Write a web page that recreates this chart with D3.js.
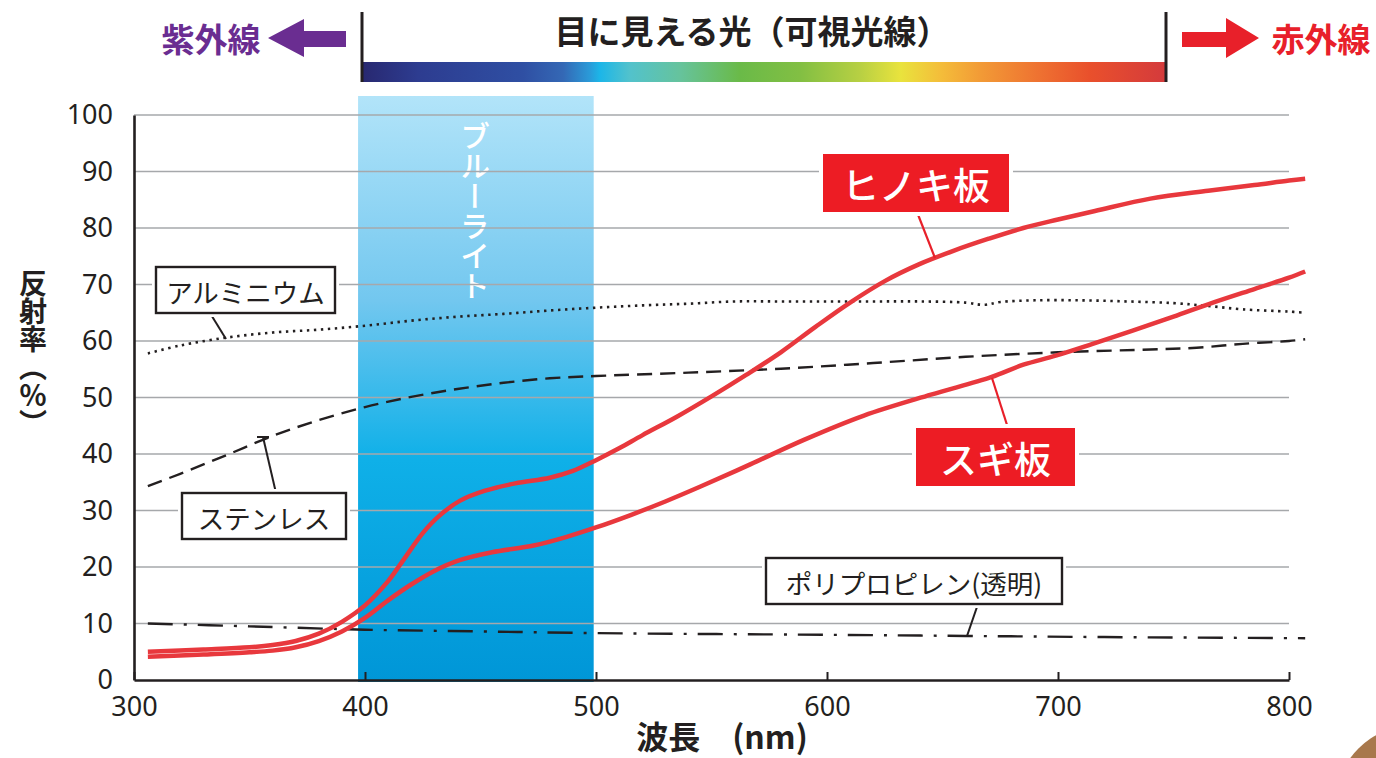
<!DOCTYPE html>
<html><head><meta charset="utf-8">
<script src="https://cdn.jsdelivr.net/npm/d3@7/dist/d3.min.js"></script>
<style>body{margin:0;background:#fff;}svg{display:block;}</style>
</head><body>
<svg id="chart" width="1376" height="758"></svg>
<script>
// ---------- data ----------
const xTicks = [300, 400, 500, 600, 700, 800];
const yTicks = [0, 10, 20, 30, 40, 50, 60, 70, 80, 90, 100];
const blueLightRange = [397, 499];

const hinokiNm  = [306, 330, 350, 360, 370, 380, 390, 400, 410, 415, 420, 425, 432, 441, 452, 465, 480, 490, 500, 510, 520, 535, 550, 565, 580, 595, 610, 625, 640, 655, 670, 685, 700, 716, 740, 765, 785, 800, 807];
const hinokiVal = [5.0, 5.4, 5.8, 6.2, 6.9, 8.2, 10.3, 13.2, 17.5, 20.3, 23.2, 26.0, 29.0, 31.7, 33.5, 34.8, 35.8, 37.0, 38.9, 41.0, 43.3, 46.6, 50.2, 54.0, 58.0, 62.5, 66.8, 70.6, 73.6, 76.0, 78.1, 80.0, 81.5, 83.0, 85.2, 86.6, 87.6, 88.4, 88.7];

const sugiNm  = [306, 330, 350, 360, 370, 380, 390, 400, 410, 420, 430, 441, 455, 473, 487, 500, 515, 530, 545, 567, 590, 616, 645, 671, 685, 699, 715, 732, 750, 765, 785, 800, 807];
const sugiVal = [4.1, 4.5, 4.9, 5.2, 5.8, 6.9, 8.6, 11.0, 14.1, 16.9, 19.3, 21.2, 22.6, 23.8, 25.3, 27.0, 29.2, 31.6, 34.2, 38.2, 42.5, 46.8, 50.5, 53.6, 55.8, 57.4, 59.5, 61.8, 64.3, 66.5, 69.2, 71.2, 72.3];

const aluNm  = [306, 320, 340, 360, 380, 400, 420, 440, 460, 480, 500, 520, 540, 560, 580, 600, 620, 640, 660, 668, 675, 690, 710, 730, 750, 765, 780, 800, 807];
const aluVal = [57.8, 59.2, 60.6, 61.5, 62.0, 62.7, 63.6, 64.3, 64.8, 65.4, 65.9, 66.3, 66.6, 67.0, 67.0, 67.0, 67.0, 67.0, 66.8, 66.4, 66.9, 67.2, 67.2, 67.0, 66.7, 66.2, 65.6, 65.2, 65.0];

const steelNm  = [306, 320, 340, 360, 380, 400, 420, 440, 460, 480, 500, 540, 580, 620, 660, 700, 740, 760, 780, 800, 807];
const steelVal = [34.3, 36.5, 39.8, 43.2, 46.0, 48.3, 50.1, 51.5, 52.6, 53.4, 53.8, 54.4, 55.1, 56.1, 57.2, 58.0, 58.5, 58.8, 59.5, 60.0, 60.3];

const ppNm  = [306, 350, 400, 450, 500, 600, 660, 720, 807];
const ppVal = [10.0, 9.5, 8.9, 8.6, 8.3, 8.0, 7.8, 7.6, 7.4];

// ---------- setup ----------
const svg = d3.select('#chart');
const INK = '#231f20';
const RED = '#e8383d';
const JP = '"Noto Sans CJK JP","Noto Sans CJK SC",sans-serif';
const NUM = '"Noto Sans","Open Sans",sans-serif';

const x = d3.scaleLinear().domain([300, 800]).range([134, 1289]);
const y = d3.scaleLinear().domain([0, 100]).range([680, 115]);

const defs = svg.append('defs');
const bg = defs.append('linearGradient').attr('id','band').attr('x1',0).attr('x2',0).attr('y1',0).attr('y2',1);
[[0,'#b2e4f9'],[0.35,'#72c7ef'],[0.62,'#0fb0e8'],[1,'#0096d7']].forEach(s=>bg.append('stop').attr('offset',s[0]).attr('stop-color',s[1]));

const sg = defs.append('linearGradient').attr('id','spec').attr('x1',0).attr('x2',1).attr('y1',0).attr('y2',0);
[[0,'#282870'],[0.07,'#2d3c90'],[0.2,'#2f4fa3'],[0.25,'#3468b5'],[0.283,'#2a9ad8'],[0.296,'#1cb6e8'],[0.333,'#52c2cc'],[0.396,'#66c39c'],[0.47,'#6aba48'],[0.545,'#82bf43'],[0.62,'#b8d043'],[0.67,'#e9e33d'],[0.72,'#f4bd3a'],[0.77,'#f29a36'],[0.843,'#ee7131'],[0.905,'#e9502c'],[1,'#d43a3c']]
  .forEach(s=>sg.append('stop').attr('offset',s[0]).attr('stop-color',s[1]));

// ---------- top spectrum header ----------
svg.append('rect').attr('x',362).attr('y',62).attr('width',804).attr('height',20).attr('fill','url(#spec)');
[362,1166].forEach(px=>svg.append('line').attr('x1',px).attr('x2',px).attr('y1',12).attr('y2',82).attr('stroke',INK).attr('stroke-width',3));
svg.append('text').attr('x',752).attr('y',30).attr('text-anchor','middle').attr('dominant-baseline','central')
  .style('font-family',JP).style('font-weight',700).style('font-size','33px').attr('fill',INK).text('目に見える光（可視光線）');
svg.append('text').attr('x',211).attr('y',38).attr('text-anchor','middle').attr('dominant-baseline','central')
  .style('font-family',JP).style('font-weight',700).style('font-size','33px').attr('fill','#6a2d91').text('紫外線');
svg.append('path').attr('d','M268,38 L304,19 L304,31 L346,31 L346,47 L304,47 L304,57 Z').attr('fill','#6a2d91');
svg.append('text').attr('x',1321).attr('y',38).attr('text-anchor','middle').attr('dominant-baseline','central')
  .style('font-family',JP).style('font-weight',700).style('font-size','33px').attr('fill','#e8202a').text('赤外線');
svg.append('path').attr('d','M1182,32 L1226,32 L1226,18 L1259,38 L1226,58 L1226,47 L1182,47 Z').attr('fill','#e8202a');

// ---------- blue light band ----------
svg.append('rect').attr('x',x(blueLightRange[0])).attr('y',96)
  .attr('width',x(blueLightRange[1])-x(blueLightRange[0])).attr('height',682-96).attr('fill','url(#band)');
svg.append('text').attr('x',475).attr('y',211).attr('text-anchor','middle')
  .style('writing-mode','vertical-rl').style('font-family',JP).style('font-weight',500).style('font-size','30px')
  .attr('fill','#fff').text('ブルーライト');

// ---------- grid ----------
svg.append('g').selectAll('line').data(yTicks.filter(v=>v>0)).join('line')
  .attr('x1',x(300)).attr('x2',x(800)).attr('y1',d=>y(d)).attr('y2',d=>y(d))
  .attr('stroke','#a6a8ab').attr('stroke-width',1.5);

// ---------- axes ----------
const yAxis = svg.append('g').attr('transform',`translate(${x(300)},0)`)
  .call(d3.axisLeft(y).tickValues(yTicks).tickSize(0).tickPadding(21));
yAxis.select('.domain').attr('stroke',INK).attr('stroke-width',2.6);
yAxis.selectAll('text').style('font-family',NUM).style('font-size','27px').attr('fill',INK);

const xAxis = svg.append('g').attr('transform',`translate(0,${y(0)})`)
  .call(d3.axisBottom(x).tickValues(xTicks).tickSizeInner(-8).tickSizeOuter(0).tickPadding(17));
xAxis.select('.domain').attr('stroke',INK).attr('stroke-width',2.6);
xAxis.selectAll('.tick line').attr('stroke',INK).attr('stroke-width',2);
xAxis.selectAll('text').style('font-family',NUM).style('font-size','27px').attr('fill',INK);

svg.append('text').attr('x',722).attr('y',749).attr('text-anchor','middle')
  .style('font-family',JP).style('font-weight',700).style('font-size','32px').attr('fill',INK).text('波長　(nm)');
svg.append('text').attr('x',33).attr('y',353).attr('text-anchor','middle')
  .style('writing-mode','vertical-rl').style('font-family',JP).style('font-weight',700).style('font-size','28px')
  .attr('fill',INK).text('反射率（％）');

// ---------- curves ----------
const zip = (a,b)=>a.map((v,i)=>[v,b[i]]);
const line = d3.line().x(d=>x(d[0])).y(d=>y(d[1])).curve(d3.curveCatmullRom.alpha(0.5));
const series = [
  {d:zip(aluNm,aluVal),   c:INK, w:2.6, dash:'2.4,4.6'},
  {d:zip(steelNm,steelVal), c:INK, w:2.4, dash:'15,8'},
  {d:zip(ppNm,ppVal),     c:INK, w:2.4, dash:'25,11,3,11'},
  {d:zip(sugiNm,sugiVal), c:RED, w:4.5, dash:null},
  {d:zip(hinokiNm,hinokiVal), c:RED, w:4.5, dash:null}
];
series.forEach(s=>svg.append('path').attr('d',line(s.d)).attr('fill','none')
  .attr('stroke',s.c).attr('stroke-width',s.w).attr('stroke-dasharray',s.dash).attr('stroke-linejoin','round'));

// ---------- annotations ----------
const blackLabels = [
  {t:'アルミニウム', b:[156,267,179,46], l:[[210,313],[226,339]]},
  {t:'ステンレス', b:[182,493,164,46], l:[[276,493],[263,437]], cap:true},
  {t:'ポリプロピレン(透明)', b:[766,558,296,46], l:[[978,604],[967,636]]}
];
blackLabels.forEach(a=>{
  const [bx,by,bw,bh]=a.b;
  svg.append('line').attr('x1',a.l[0][0]).attr('y1',a.l[0][1]).attr('x2',a.l[1][0]).attr('y2',a.l[1][1]).attr('stroke',INK).attr('stroke-width',2);
  if(a.cap) svg.append('line').attr('x1',a.l[1][0]-6).attr('x2',a.l[1][0]+6).attr('y1',a.l[1][1]).attr('y2',a.l[1][1]).attr('stroke',INK).attr('stroke-width',2);
  svg.append('rect').attr('x',bx-4).attr('y',by-4).attr('width',bw+8).attr('height',bh+8).attr('fill','#fff');
  svg.append('rect').attr('x',bx).attr('y',by).attr('width',bw).attr('height',bh).attr('fill','#fff').attr('stroke',INK).attr('stroke-width',2.4);
  svg.append('text').attr('x',bx+bw/2).attr('y',by+bh/2+1).attr('text-anchor','middle').attr('dominant-baseline','central')
    .style('font-family',JP).style('font-size','26.5px').attr('fill',INK).text(a.t);
});
const redLabels = [
  {t:'ヒノキ板', b:[823,154,186,58], l:[[917,212],[935,258]]},
  {t:'スギ板', b:[916,428,159,58], l:[[1008,428],[992,378]]}
];
redLabels.forEach(a=>{
  const [bx,by,bw,bh]=a.b;
  svg.append('line').attr('x1',a.l[0][0]).attr('y1',a.l[0][1]).attr('x2',a.l[1][0]).attr('y2',a.l[1][1]).attr('stroke','#e8202a').attr('stroke-width',2.2);
  svg.append('rect').attr('x',bx-4).attr('y',by-4).attr('width',bw+8).attr('height',bh+8).attr('fill','#fff');
  svg.append('rect').attr('x',bx).attr('y',by).attr('width',bw).attr('height',bh).attr('fill','#ed1c24');
  svg.append('text').attr('x',bx+bw/2).attr('y',by+bh/2+1).attr('text-anchor','middle').attr('dominant-baseline','central')
    .style('font-family',JP).style('font-weight',500).style('font-size','37px').attr('fill','#fff').text(a.t);
});

// decorative corner circle
svg.append('circle').attr('cx',1415).attr('cy',805).attr('r',80).attr('fill','#a8784c');
</script>
</body></html>
